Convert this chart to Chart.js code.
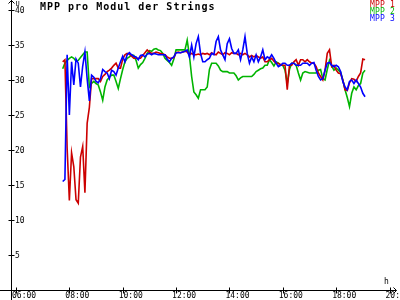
<!DOCTYPE html>
<html>
<head>
<meta charset="utf-8">
<script src="https://cdn.jsdelivr.net/npm/chart.js@4/dist/chart.umd.min.js"></script>
<style>
  html, body { margin: 0; padding: 0; background: #fff; }
  #wrap { position: relative; width: 400px; height: 300px; overflow: hidden; }
  #title { position: absolute; left: 40px; top: 1px; font: bold 10px "DejaVu Sans Mono", monospace; letter-spacing: 1px; line-height: 12px; color: #000; white-space: pre; }
  #legend { position: absolute; left: 370px; top: 0.5px; font: 8px "DejaVu Sans Mono", monospace; line-height: 7px; letter-spacing: 0.2px; white-space: pre; }
</style>
</head>
<body>
<div id="wrap">
  <canvas id="chart" width="400" height="300"></canvas>
  <div id="title">MPP pro Modul der Strings</div>
  <div id="legend"></div>
</div>
<script>
// samples every 5 minutes from 07:45 to 19:05
const startMin = 465;
const stepMin = 5;

const mpp1 = [32.6,32.9,20.3,12.8,19.6,17.6,12.9,12.4,19.0,20.5,13.9,23.8,26.1,30.2,30.2,30.2,30.2,29.8,30.5,30.8,
  31.2,31.4,31.7,32.1,32.4,31.7,31.7,33.0,33.6,33.8,33.7,33.4,33.1,33.1,33.1,33.1,33.5,33.9,34.3,34.0,
  33.8,33.8,34.0,33.9,33.8,33.7,33.6,33.3,33.1,33.1,33.2,33.9,34.0,33.9,34.0,34.1,34.0,33.6,33.8,33.6,
  33.6,33.7,33.6,33.8,33.7,33.8,33.6,33.9,33.7,33.6,34.0,33.8,33.6,33.9,33.8,33.6,33.9,33.8,33.8,33.6,
  33.8,33.6,33.8,33.6,33.3,33.5,33.3,33.5,33.3,33.1,33.3,32.6,32.6,32.9,33.1,32.7,32.4,32.4,32.2,32.1,
  32.1,28.6,32.1,32.1,32.6,32.9,32.1,32.9,32.9,32.6,32.9,32.6,32.4,32.4,31.9,31.0,30.5,30.0,31.4,33.8,
  34.3,31.9,32.1,31.4,31.0,30.9,30.0,28.6,28.5,29.6,30.2,30.1,29.8,30.5,31.0,33.0,32.9];

const mpp2 = [31.6,32.4,32.8,33.1,33.3,33.1,32.7,32.8,33.2,33.6,34.0,34.0,29.0,29.5,29.8,29.5,29.3,28.3,27.1,29.0,
  30.0,30.4,30.7,30.7,29.8,28.8,30.2,31.5,32.6,33.1,33.3,33.6,33.5,32.8,31.7,32.2,32.5,33.1,33.8,34.2,
  34.1,34.4,34.5,34.3,34.2,33.8,33.1,32.8,32.5,32.1,33.0,34.3,34.3,34.3,34.3,34.3,35.7,33.5,30.5,28.3,
  27.9,27.4,28.6,28.6,28.6,29.0,31.5,32.4,32.4,32.4,32.0,31.4,31.2,31.2,31.2,31.0,31.0,31.0,30.6,30.0,
  30.3,30.5,30.5,30.5,30.5,30.5,30.8,31.2,31.4,31.6,31.7,32.1,32.1,32.9,32.5,32.0,32.6,32.4,32.1,32.1,
  31.4,29.5,31.5,32.4,32.4,32.1,31.0,30.0,31.0,31.2,31.1,31.0,31.0,31.0,31.0,31.4,31.5,30.2,30.0,31.5,
  32.8,32.0,31.4,31.7,31.4,31.1,30.0,28.6,27.5,26.2,28.1,29.0,28.6,29.2,29.5,31.0,31.4];

const mpp3 = [15.5,15.8,33.6,25.0,32.6,29.3,33.0,32.4,29.0,32.0,34.0,30.2,27.0,30.7,30.4,29.8,29.6,30.2,31.5,31.2,
  31.0,30.2,31.4,31.2,30.7,31.7,32.6,33.4,32.6,33.6,33.9,33.6,33.4,33.3,32.9,33.5,33.6,33.3,33.7,33.8,
  33.6,33.8,33.7,33.6,33.6,33.6,33.6,33.0,32.6,33.1,33.3,33.9,33.9,33.9,34.0,34.1,34.3,33.3,35.0,33.3,
  35.2,36.2,33.8,32.6,32.6,32.9,33.1,33.8,33.6,35.5,36.2,34.3,33.6,32.9,35.2,35.9,34.5,33.8,33.8,34.3,
  32.9,34.3,36.2,33.8,32.4,33.3,32.6,33.6,32.6,33.3,34.3,32.9,33.3,33.1,33.6,33.1,32.4,31.9,32.1,32.4,
  32.4,32.1,32.1,32.4,32.4,32.1,32.1,32.1,32.4,32.4,32.4,32.1,32.4,32.5,31.4,30.5,30.0,30.2,31.4,32.4,
  32.5,32.1,31.9,32.1,31.9,31.2,29.8,29.0,28.6,29.8,30.0,29.5,30.0,29.5,29.0,28.1,27.6];

const seriesNames = ["MPP 1", "MPP 2", "MPP 3"];
const seriesColors = ["#cc0000", "#00b400", "#0000ff"];

const yTicks = [5, 10, 15, 20, 25, 30, 35, 40];
const xTickHours = [6, 8, 10, 12, 14, 16, 18, 20];
const xTickLabels = ["06:00", "08:00", "10:00", "12:00", "14:00", "16:00", "18:00", "20:00"];

function toPoints(values) {
  return values.map((v, i) => ({ x: (startMin + i * stepMin) / 60, y: v }));
}

// axes with arrows, tick marks and labels, drawn from the chart's scales
const axesPlugin = {
  id: "axes",
  beforeDatasetsDraw(chart) {
    const ctx = chart.ctx;
    const xs = chart.scales.x, ys = chart.scales.y;
    const x0 = Math.round(xs.getPixelForValue(xs.min)) + 0.5;
    const y0 = Math.round(ys.getPixelForValue(0)) + 0.5;
    const xEnd = Math.round(xs.getPixelForValue(xs.max)) + 0.5;
    ctx.save();
    ctx.strokeStyle = "#000";
    ctx.lineWidth = 1;
    ctx.beginPath();
    ctx.moveTo(x0, 0); ctx.lineTo(x0, 300);
    ctx.moveTo(0, y0); ctx.lineTo(xEnd, y0);
    // arrows
    ctx.moveTo(x0 - 3, 3.5); ctx.lineTo(x0, 0.5); ctx.lineTo(x0 + 3, 3.5);
    ctx.moveTo(xEnd - 3, y0 - 3); ctx.lineTo(xEnd, y0); ctx.lineTo(xEnd - 3, y0 + 3);
    yTicks.forEach(t => {
      const py = Math.round(ys.getPixelForValue(t)) + 0.5;
      ctx.moveTo(x0 - 3, py); ctx.lineTo(x0 + 3, py);
    });
    xTickHours.forEach(h => {
      const px = Math.round(xs.getPixelForValue(h)) + 0.5;
      ctx.moveTo(px, y0 - 3); ctx.lineTo(px, y0 + 3);
    });
    ctx.stroke();

    ctx.fillStyle = "#000";
    ctx.font = '8px "DejaVu Sans Mono", monospace';
    ctx.textAlign = "left";
    ctx.textBaseline = "middle";
    yTicks.forEach(t => {
      ctx.fillText(String(t), x0 + 3.5, ys.getPixelForValue(t) + 0.5);
    });
    ctx.textBaseline = "top";
    xTickHours.forEach((h, i) => {
      ctx.fillText(xTickLabels[i], xs.getPixelForValue(h) - 4, y0 + 1.5);
    });
    ctx.font = '7px "DejaVu Sans Mono", monospace';
    ctx.textBaseline = "alphabetic";
    ctx.fillText("U", x0 + 4, 6);
    ctx.font = '8px "DejaVu Sans Mono", monospace';
    ctx.fillText("h", 384, y0 - 7);
    ctx.restore();
  }
};

const allSeries = [mpp1, mpp2, mpp3];
const drawOrder = [1, 2, 0];

new Chart(document.getElementById("chart"), {
  type: "line",
  data: {
    datasets: allSeries.map((vals, i) => ({
      label: seriesNames[i],
      data: toPoints(vals),
      borderColor: seriesColors[i],
      backgroundColor: seriesColors[i],
      borderWidth: 1.6,
      pointRadius: 0,
      tension: 0,
      fill: false,
      order: drawOrder[i]
    }))
  },
  options: {
    responsive: false,
    animation: false,
    devicePixelRatio: 1,
    layout: { padding: { left: 11, top: 10, right: 4, bottom: 10 } },
    scales: {
      x: { type: "linear", display: false, min: 5.8126, max: 20.243 },
      y: { display: false, min: 0, max: 40 }
    },
    plugins: { legend: { display: false }, tooltip: { enabled: false } }
  },
  plugins: [axesPlugin]
});

const legend = document.getElementById("legend");
seriesNames.forEach((name, i) => {
  const item = document.createElement("div");
  item.textContent = name;
  item.style.color = seriesColors[i];
  legend.appendChild(item);
});
</script>
</body>
</html>
